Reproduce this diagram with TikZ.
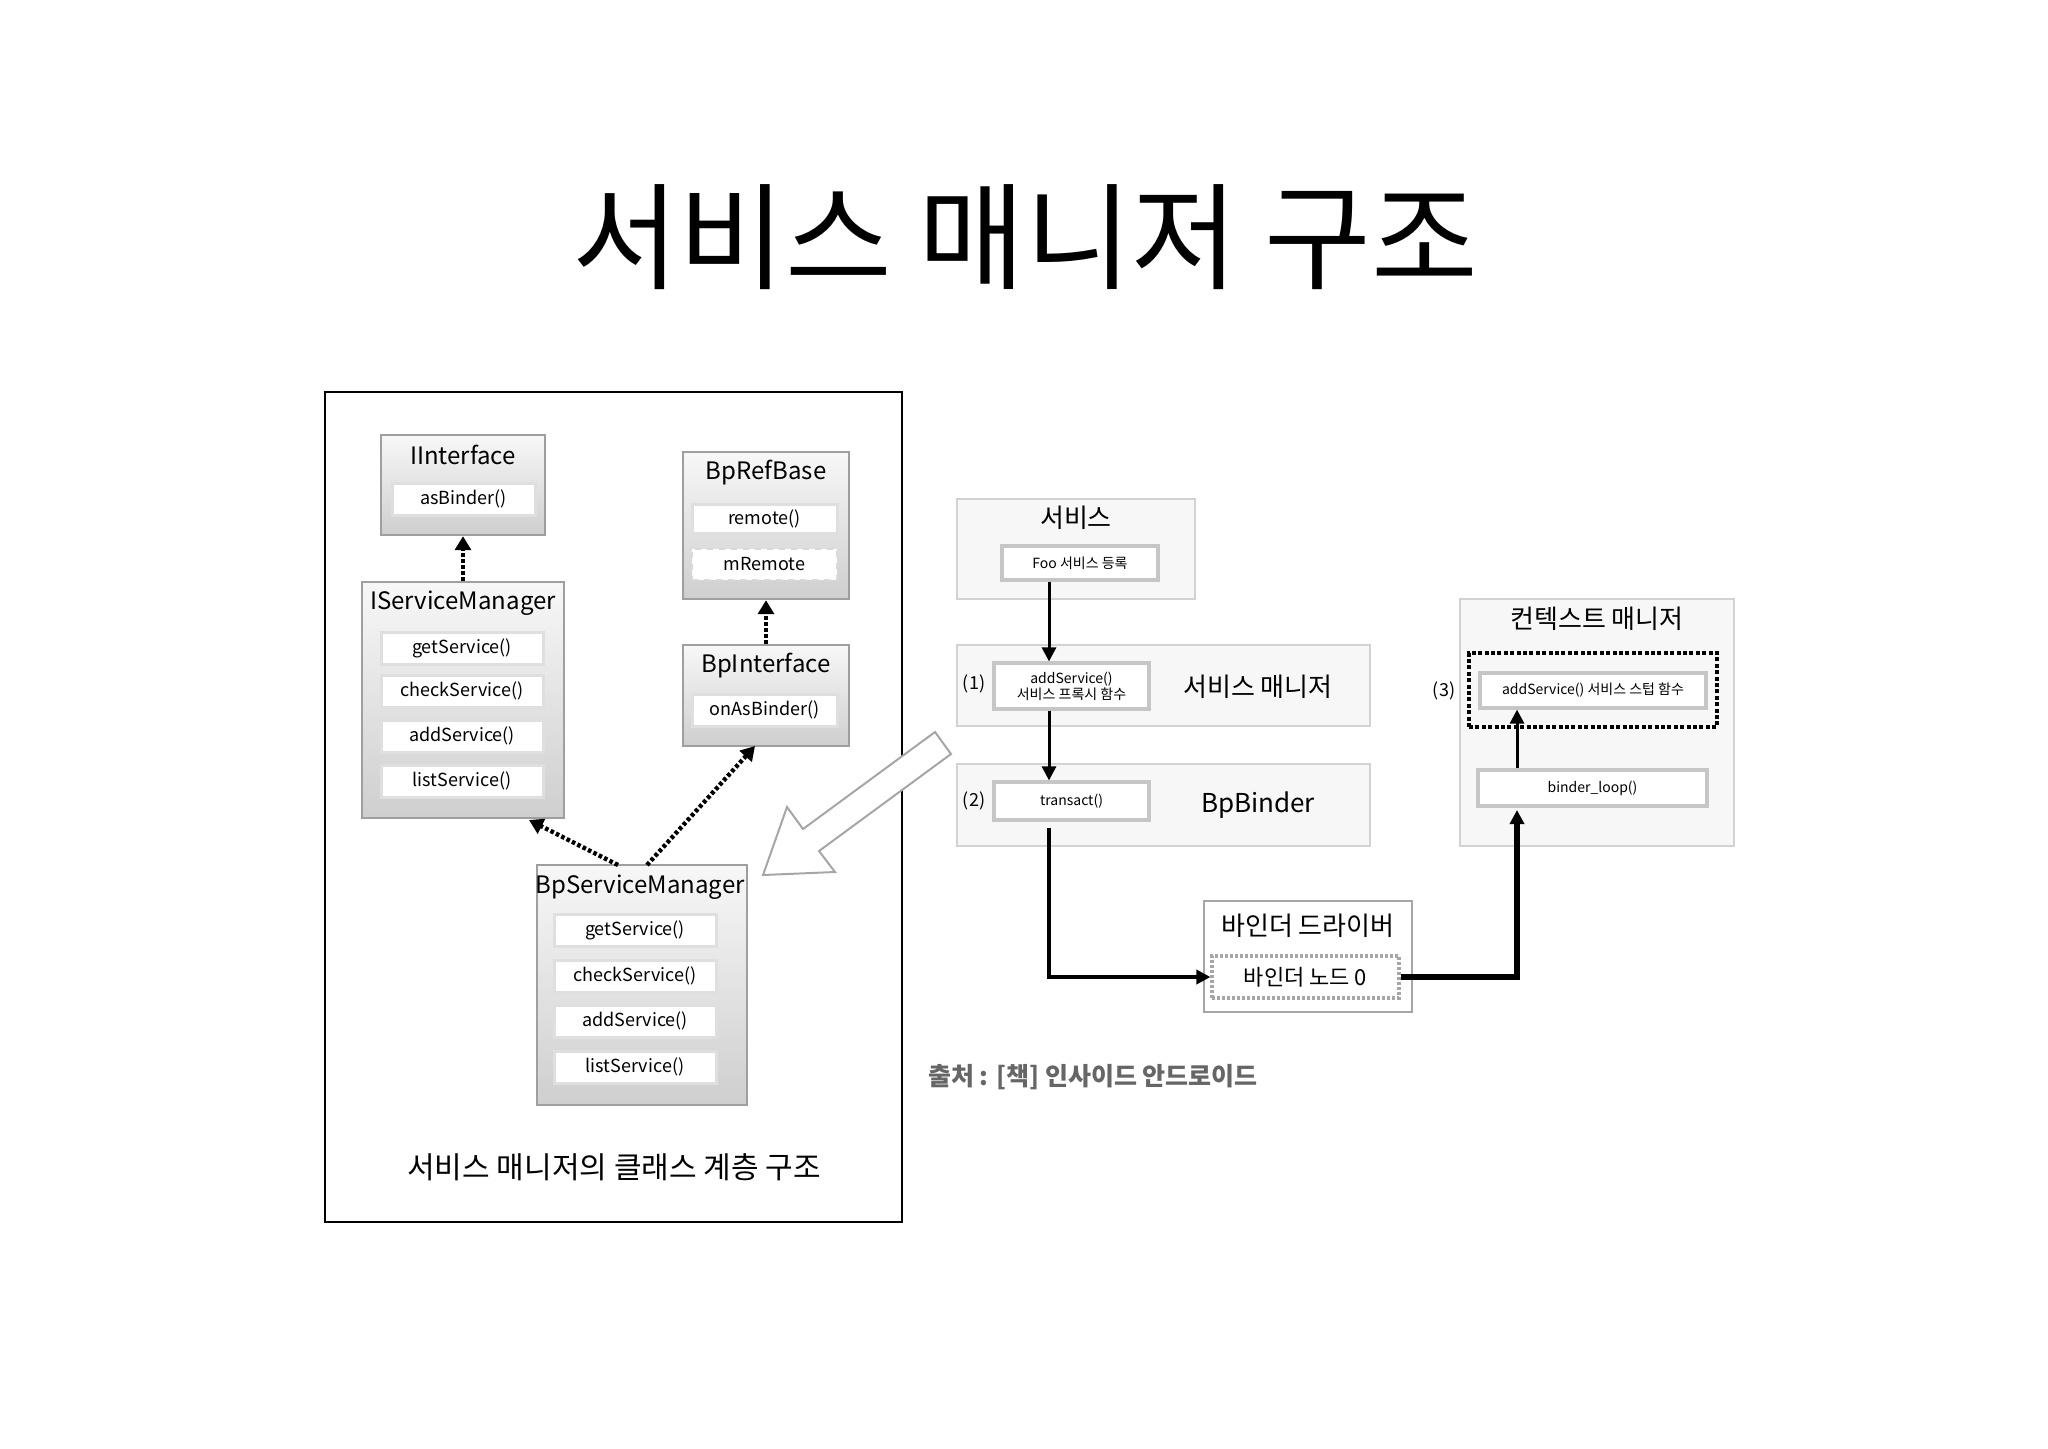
\documentclass[tikz,border=0pt]{standalone}
\usepackage{fontspec}
\setmainfont{Noto Sans CJK KR}
\usetikzlibrary{fit,arrows.meta,calc}
\begin{document}
\begin{tikzpicture}[x=0.5pt,y=-0.5pt,
  cls/.style={draw=gray!75,line width=1.2pt,top color=gray!6,bottom color=gray!38,inner sep=0pt},
  item/.style={draw=gray!25,line width=1.5pt,fill=white,inner sep=0pt},
  ditem/.style={draw=gray!30,dashed,line width=1pt,fill=white,inner sep=0pt},
  band/.style={draw=gray!35,line width=1pt,fill=gray!6,inner sep=0pt},
  ritem/.style={draw=gray!45,line width=1.6pt,fill=white,inner sep=0pt},
  ttl/.style={font=\fontsize{12}{14}\selectfont},
  rttl/.style={font=\fontsize{13}{15}\selectfont},
  itx/.style={font=\fontsize{9}{11}\selectfont},
  stx/.style={font=\fontsize{7}{8}\selectfont,align=center},
  dep/.style={line width=2.2pt,dash pattern=on 1.8pt off 1.2pt,-{Triangle[width=8pt,length=7pt]}},
  flow/.style={line width=1.5pt,-{Triangle[width=7pt,length=7pt]}}]
\useasboundingbox (0,0) rectangle (2048,1448);
\node[font=\fontsize{58}{60}\selectfont] (title) at (1025,237) {서비스 매니저 구조};
\node[draw,line width=1.2pt,inner sep=0pt,fit={(325,392) (902,1222)}] (frame) {};
% IInterface
\node[cls,fit={(381,435) (545,535)}] (ii) {};
\node[ttl] at (463,455) {IInterface};
\node[item,fit={(392,483) (535,515)}] (ii1) {};
\node[itx] at (ii1) {asBinder()};
% IServiceManager
\node[cls,fit={(362,582) (564,818)}] (ism) {};
\node[ttl] at (463,603) {IServiceManager};
\foreach \y/\t [count=\i] in {648/getService(),691/checkService(),736/addService(),781/listService()}{
  \node[item,minimum width=81pt,minimum height=16pt] (ism\i) at (462,\y) {};
  \node[itx] at (ism\i) {\t};}
% BpRefBase
\node[cls,fit={(683,452) (849,599)}] (brb) {};
\node[ttl] at (766,473) {BpRefBase};
\node[item,fit={(692,504) (837,533)}] (brb1) {};
\node[itx] at (brb1) {remote()};
\node[ditem,fit={(692,549) (837,580)}] (brb2) {};
\node[itx] at (brb2) {mRemote};
% BpInterface
\node[cls,fit={(683,645) (849,746)}] (bpi) {};
\node[ttl] at (766,666) {BpInterface};
\node[item,fit={(692,694) (837,726)}] (bpi1) {};
\node[itx] at (bpi1) {onAsBinder()};
% BpServiceManager
\node[cls,fit={(537,865) (747,1105)}] (bsm) {};
\node[ttl] at (640,887) {BpServiceManager};
\foreach \y/\t [count=\i] in {930/getService(),976/checkService(),1021/addService(),1067/listService()}{
  \node[item,minimum width=81pt,minimum height=16pt] (bsm\i) at (635,\y) {};
  \node[itx] at (bsm\i) {\t};}
\node[font=\fontsize{15}{17}\selectfont] (cap) at (614,1167) {서비스 매니저의 클래스 계층 구조};
% dependency arrows
\draw[dep] (ism.north -| ii.south) -- (ii.south);
\draw[dep] (bpi.north) -- (brb.south);
\coordinate (bsmA) at (618,865);
\coordinate (bsmB) at (647,865);
\draw[dep] (bsmA) -- (529,820);
\draw[dep] (bsmB) -- (755,746);
% big hollow arrow
\draw[gray!70,line width=1pt,fill=white] (951,754) -- (819,851) -- (835,872) -- (763,875) -- (787,807) -- (803,829) -- (935,732) -- cycle;
% right side
\node[band,fit={(957,499) (1195,599)}] (svc) {};
\node[rttl] at (1076,518) {서비스};
\node[ritem,fit={(1002,546) (1158,580)}] (foo) {};
\node[stx] at (foo) {Foo 서비스 등록};
\node[band,fit={(957,645) (1370,726)}] (sm) {};
\node[ritem,fit={(994,663) (1149,709)}] (add) {};
\node[stx] at (add) {addService()\\서비스 프록시 함수};
\node[itx] at (974,684) {(1)};
\node[rttl] at (1258,687) {서비스 매니저};
\node[band,fit={(957,764) (1370,846)}] (bpb) {};
\node[ritem,fit={(994,782) (1149,820)}] (tr) {};
\node[stx] at (tr) {transact()};
\node[itx] at (974,801) {(2)};
\node[rttl] at (1258,805) {BpBinder};
\node[band,fit={(1460,599) (1734,846)}] (ctx) {};
\node[rttl] at (1597,619) {컨텍스트 매니저};
\node[draw,line width=2.2pt,dash pattern=on 2pt off 1.2pt,inner sep=0pt,fit={(1469,653) (1717,727)}] (stubd) {};
\node[ritem,fit={(1480,673) (1706,708)}] (stub) {};
\node[stx] at (stub) {addService() 서비스 스텁 함수};
\node[itx] at (1444,691) {(3)};
\node[ritem,fit={(1478,770) (1707,806)}] (loop) {};
\node[stx] at (loop) {binder\_loop()};
\node[draw=gray!70,line width=1.2pt,fill=white,inner sep=0pt,fit={(1204,901) (1412,1012)}] (drv) {};
\node[rttl] at (1308,926) {바인더 드라이버};
\node[draw=gray!70,line width=1.6pt,dash pattern=on 1.5pt off 1pt,fill=white,inner sep=0pt,fit={(1212,956) (1399,998)}] (node0) {};
\node[font=\fontsize{11}{13}\selectfont] at (node0) {바인더 노드 0};
\coordinate (x1) at (1049,0);
\coordinate (x2) at (1517,0);
\draw[flow] (foo.south -| x1) -- (add.north -| x1);
\draw[flow] (add.south -| x1) -- (tr.north -| x1);
\coordinate (trb) at (1049,828);
\draw[flow,line width=2.2pt] (trb) |- (node0.west);
\coordinate (ctxb) at (1517,810);
\draw[flow,line width=2.6pt] (node0.east) -| (ctxb);
\draw[flow] (loop.north -| x2) -- (stub.south -| x2);
\node[text=gray!80!black,font=\bfseries\fontsize{12.5}{14}\selectfont] (src) at (1093,1077) {출처 : [책] 인사이드 안드로이드};
\end{tikzpicture}
\end{document}
